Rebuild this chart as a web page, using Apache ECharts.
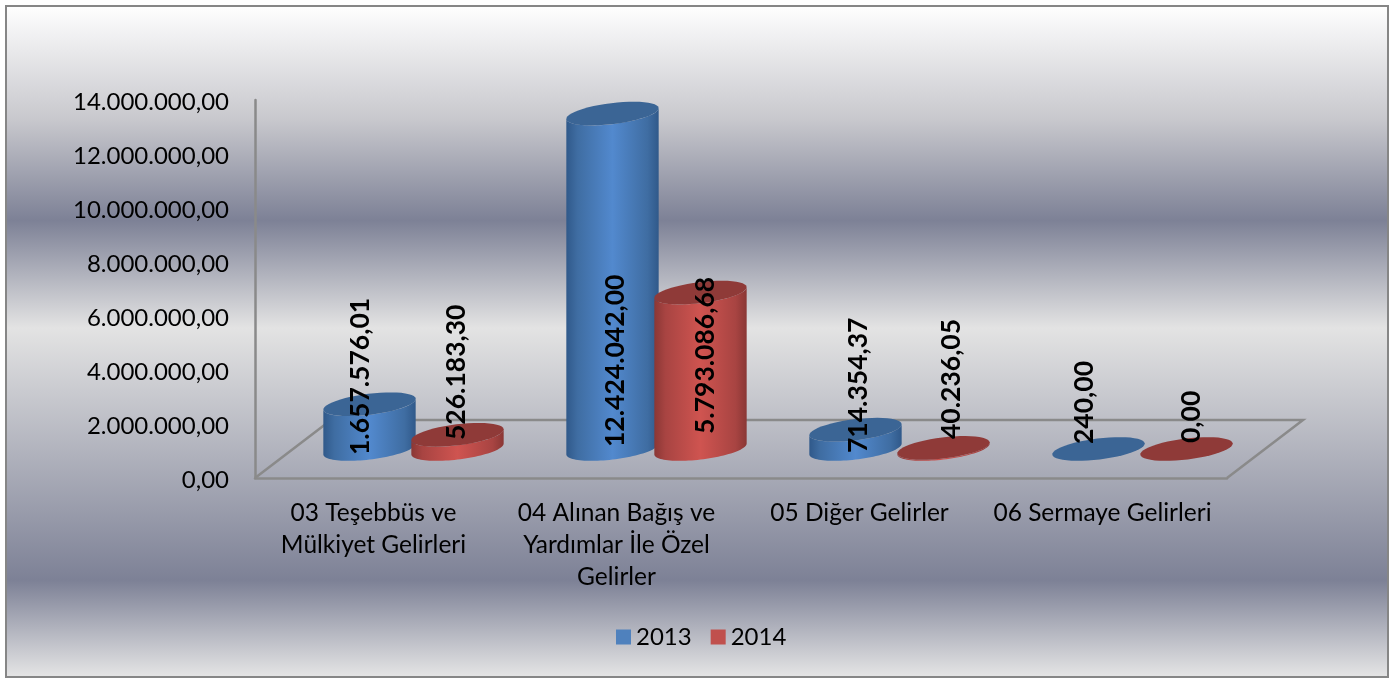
<!DOCTYPE html>
<html>
<head>
<meta charset="utf-8">
<style>
  html, body { margin: 0; padding: 0; background: #fff; }
  #chart { width: 1393px; height: 678px; }
</style>
<script src="https://cdn.jsdelivr.net/npm/echarts@6/dist/echarts.min.js"></script>
</head>
<body>
<div id="chart"></div>
<script>
const categories = [
  '03 Teşebbüs ve\nMülkiyet Gelirleri',
  '04 Alınan Bağış ve\nYardımlar İle Özel\nGelirler',
  '05 Diğer Gelirler',
  '06 Sermaye Gelirleri'
]
const values2013 = [1657576.01, 12424042.00, 714354.37, 240.00]
const values2014 = [526183.30, 5793086.68, 40236.05, 0.00]

// label nudges from the bar base centre, per series and category
const labelNudge = [
  [[-9, 6], [3, -2], [3, 4], [-14, -5]],
  [[-1, -9], [5, -15], [8, -10], [5, -6]]
]
const labelFont = 'bold 26.5px Lato'

// turkish number format, always 2 decimals
function fmt(v) {
  const parts = v.toFixed(2).split('.')
  return parts[0].replace(/\B(?=(\d{3})+(?!\d))/g, '.') + ',' + parts[1]
}

// depth of the fake 3d floor
const floorDepthX = 76
const floorDepthY = 58
const baseLift = 29
const barShiftX = 37
const barGap = 44
const rx = 46.5
const ry = 10.5
const tilt = -7 * Math.PI / 180
// ellipse parameter where the tilted outline is rightmost
const tEdge = Math.atan(-(ry / rx) * Math.tan(tilt))

function ellipsePoints(cx, cy, from, to) {
  const pts = []
  const n = 48
  for (let i = 0; i <= n; i++) {
    const t = from + (to - from) * i / n
    const ex = rx * Math.cos(t)
    const ey = ry * Math.sin(t)
    pts.push([
      cx + ex * Math.cos(tilt) - ey * Math.sin(tilt),
      cy + ex * Math.sin(tilt) + ey * Math.cos(tilt)
    ])
  }
  return pts
}

function cylinder(seriesIdx, colors) {
  return function (params, api) {
    const cat = api.value(0)
    const val = api.value(1)
    const base = api.coord([cat, 0])
    const top = api.coord([cat, val])
    const cx = base[0] + barShiftX + (seriesIdx === 0 ? -barGap : barGap)
    const by = base[1] - baseLift
    const ty = top[1] - baseLift
    const children = []
    if (by - ty > 0.5) {
      const side = ellipsePoints(cx, by, tEdge + Math.PI, tEdge).concat(ellipsePoints(cx, ty, tEdge, tEdge + Math.PI))
      children.push({
        type: 'polygon',
        shape: { points: side },
        style: {
          fill: new echarts.graphic.LinearGradient(0, 0, 1, 0, [
            { offset: 0, color: colors.edge },
            { offset: 0.12, color: colors.inner },
            { offset: 0.5, color: colors.mid },
            { offset: 0.88, color: colors.inner },
            { offset: 1, color: colors.edge }
          ])
        }
      })
    }
    children.push({
      type: 'polygon',
      shape: { points: ellipsePoints(cx, ty, 0, Math.PI * 2) },
      style: { fill: colors.top }
    })
    return { type: 'group', children: children }
  }
}

function labelItem(seriesIdx) {
  return function (params, api) {
    const cat = api.value(0)
    const base = api.coord([cat, 0])
    const nudge = labelNudge[seriesIdx][cat]
    const cx = base[0] + barShiftX + (seriesIdx === 0 ? -barGap : barGap)
    return {
      type: 'text',
      x: cx + nudge[0],
      y: base[1] - baseLift + nudge[1],
      rotation: Math.PI / 2,
      style: {
        text: fmt(api.value(1)),
        font: labelFont,
        fill: '#000',
        align: 'left',
        verticalAlign: 'middle'
      }
    }
  }
}

function floorItem(params, api) {
  const band = api.size([1, 0])[0]
  const a = api.coord([0, 0])
  const b = api.coord([categories.length - 1, 0])
  const left = a[0] - band / 2
  const right = b[0] + band / 2
  return {
    type: 'polyline',
    shape: {
      points: [
        [left, a[1]],
        [left + floorDepthX, a[1] - floorDepthY],
        [right + floorDepthX, a[1] - floorDepthY],
        [right, a[1]]
      ]
    },
    style: { stroke: '#8a8a8a', lineWidth: 2.5, fill: null },
    silent: true
  }
}

const chart = echarts.init(document.getElementById('chart'))
chart.setOption({
  animation: false,
  backgroundColor: '#fff',
  textStyle: { fontFamily: 'Lato' },
  graphic: [{
    type: 'rect',
    z: -10,
    shape: { x: 6, y: 6, width: 1382, height: 671 },
    style: {
      stroke: '#868686',
      lineWidth: 2,
      fill: new echarts.graphic.LinearGradient(0, 0, 0, 1, [
        { offset: 0, color: '#ffffff' },
        { offset: 0.17, color: '#c8c8cd' },
        { offset: 0.32, color: '#7d8196' },
        { offset: 0.48, color: '#e3e3e3' },
        { offset: 0.855, color: '#7d8196' },
        { offset: 1, color: '#e6e6e6' }
      ])
    }
  }],
  legend: {
    data: ['2013', '2014'],
    left: 611,
    top: 620,
    itemWidth: 15,
    itemHeight: 15,
    itemGap: 19,
    icon: 'rect',
    textStyle: { fontSize: 24, color: '#000', fontFamily: 'Lato' }
  },
  grid: { left: 255, right: 166, top: 100, bottom: 200 },
  xAxis: {
    type: 'category',
    data: categories,
    axisTick: { show: false },
    axisLine: { lineStyle: { color: '#8a8a8a', width: 2.5 } },
    axisLabel: { color: '#000', fontSize: 24.5, lineHeight: 32, margin: 19, interval: 0, padding: [0, 6, 0, 0], fontFamily: 'Lato' }
  },
  yAxis: {
    type: 'value',
    min: 0,
    max: 14000000,
    interval: 2000000,
    splitLine: { show: false },
    axisTick: { show: false },
    axisLine: { show: true, lineStyle: { color: '#8a8a8a', width: 2.5 } },
    axisLabel: {
      margin: 26,
      formatter: v => '{v|' + fmt(v) + '}',
      rich: { v: { color: '#000', fontSize: 24, fontFamily: 'Lato', padding: [4, 0, 0, 0] } }
    }
  },
  series: [
    { type: 'custom', name: 'floor', data: [[0, 0]], renderItem: floorItem, silent: true, z: 1, encode: { x: 0, y: 1 } },
    {
      type: 'custom', name: '2013', z: 2,
      itemStyle: { color: '#4f81bd' },
      data: values2013.map((v, i) => [i, v]),
      encode: { x: 0, y: 1 },
      renderItem: cylinder(0, { edge: '#30598a', inner: '#3f6da2', mid: '#5289ce', top: '#3b6595' })
    },
    {
      type: 'custom', name: '2014', z: 3,
      itemStyle: { color: '#c0504d' },
      data: values2014.map((v, i) => [i, v]),
      encode: { x: 0, y: 1 },
      renderItem: cylinder(1, { edge: '#8a3735', inner: '#a84442', mid: '#cf5450', top: '#8f3a38' })
    },
    { type: 'custom', z: 5, silent: true, data: values2013.map((v, i) => [i, v]), encode: { x: 0, y: 1 }, renderItem: labelItem(0) },
    { type: 'custom', z: 5, silent: true, data: values2014.map((v, i) => [i, v]), encode: { x: 0, y: 1 }, renderItem: labelItem(1) }
  ]
})
</script>
</body>
</html>
